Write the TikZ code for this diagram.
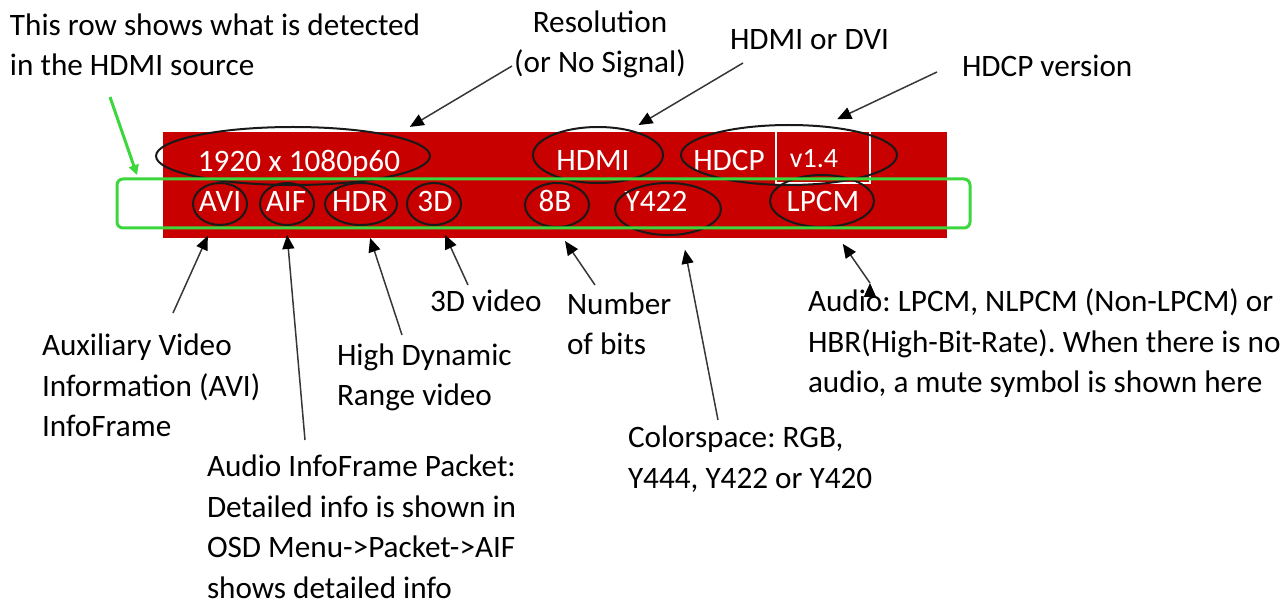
\documentclass[tikz,border=0pt]{standalone}
\usepackage{fontspec}
\setmainfont{Carlito}
\usetikzlibrary{arrows.meta,shapes.geometric}
\definecolor{barred}{RGB}{200,0,0}
\definecolor{rowgreen}{RGB}{60,215,60}
\definecolor{pointgray}{RGB}{55,55,55}
\frenchspacing

\begin{document}
\begin{tikzpicture}[x=0.5pt,y=-0.5pt,>={Triangle[length=7pt,width=6pt,color=black]},
	every node/.style={inner sep=0pt,outer sep=0pt,font=\fontsize{15.6pt}{20.25pt}\selectfont},
	note/.style={anchor=base west,align=left},
	barlbl/.style={anchor=base,text=white},
	ring/.style={draw=black!90,line width=1pt,ellipse},
	rowbox/.style={draw=rowgreen,line width=1.5pt,rounded corners=3pt},
	pointer/.style={->,draw=pointgray,line width=0.75pt}]
	\useasboundingbox (0,0) rectangle (1287,609);

	% the status bar
	\fill[barred] (163,132) rectangle (947,238);
	\draw[white,line width=0.75pt] (776,132) |- (870,183) -- (870,132);

	\node[barlbl] (vres) at (299,172) {1920 x 1080p60};
	\node[barlbl] (vhdmi) at (593,171) {HDMI};
	\node[barlbl] (vhdcp) at (729,171) {HDCP};
	\node[barlbl,font=\fontsize{14pt}{16pt}\selectfont] (vver) at (814,168) {v1.4};
	\node[barlbl] (vavi) at (220,212) {AVI};
	\node[barlbl] (vaif) at (286,212) {AIF};
	\node[barlbl] (vhdr) at (360,212) {HDR};
	\node[barlbl] (v3d) at (435,212) {3D};
	\node[barlbl] (v8b) at (555,212) {8B};
	\node[barlbl] (vcs) at (656,212) {Y422};
	\node[barlbl] (vaud) at (823,212) {LPCM};

	% rings round the fields
	\node[ring,minimum width=137pt,minimum height=29pt] (mres) at (293,156) {};
	\node[ring,minimum width=65pt,minimum height=28pt] (mhdmi) at (598,155) {};
	\node[ring,minimum width=108pt,minimum height=30pt] (mhdcp) at (789,155) {};
	\node[ring,minimum width=27pt,minimum height=21pt] (mavi) at (220,204) {};
	\node[ring,minimum width=27pt,minimum height=21pt] (maif) at (287,204) {};
	\node[ring,minimum width=36pt,minimum height=21pt] (mhdr) at (361,204) {};
	\node[ring,minimum width=27pt,minimum height=21pt] (m3d) at (434,204) {};
	\node[ring,minimum width=32pt,minimum height=22pt] (m8b) at (557,205) {};
	\node[ring,minimum width=53pt,minimum height=26pt] (mcs) at (668,209) {};
	\node[ring,minimum width=52pt,minimum height=26pt] (maud) at (822,201) {};

	\node[rowbox,minimum width=426.5pt,minimum height=24.5pt] (row) at (543.5,203.5) {};

	% notes (placed at the baseline of their last line)
	\node[note] (nrow) at (10,76) {This row shows what is detected\\in the HDMI source};
	\node[note,anchor=base,align=center] (nres) at (600,73) {Resolution\\(or No Signal)};
	\node[note] (nhdmi) at (730,50) {HDMI or DVI};
	\node[note] (nhdcp) at (962,77) {HDCP version};
	\node[note] (navi) at (42,437) {Auxiliary Video\\Information (AVI)\\InfoFrame};
	\node[note] (naif) at (207,598) {Audio InfoFrame Packet:\\Detailed info is shown in\\OSD Menu->Packet->AIF\\shows detailed info};
	\node[note] (nhdr) at (337,406) {High Dynamic\\Range video};
	\node[note] (n3d) at (430,312) {3D video};
	\node[note] (n8b) at (567,355) {Number\\of bits};
	\node[note] (ncs) at (628,488) {Colorspace: RGB,\\Y444, Y422 or Y420};
	\node[note] (naud) at (808,393) {Audio: LPCM, NLPCM (Non-LPCM) or\\HBR(High-Bit-Rate). When there is no\\audio, a mute symbol is shown here};

	\path[pointer]
	([shift={(-88,-7)}]nres.base) edge [shorten >=9.25pt] (mres.11)
	([shift={(13,13)}]nhdmi.base west) edge [shorten >=5.3pt] (mhdmi.38)
	([shift={(-25,-5)}]nhdcp.base west) edge [shorten >=8.5pt] (mhdcp.41)

	([shift={(131,-124)}]navi.base west) edge [shorten >=6.35pt] (mavi.-109)
	([shift={(98,-158)}]naif.base west) edge [shorten >=5pt] (maif.-92)
	([shift={(65,-71)}]nhdr.base west) edge [shorten >=6.9pt] (mhdr.-77)
	([shift={(38,-27)}]n3d.base west) edge [shorten >=5.75pt] (m3d.-73)
	([shift={(28,-70)}]n8b.base west) edge [shorten >=8.5pt] (m8b.-94)
	([shift={(90,-68)}]ncs.base west) edge [shorten >=8pt] (mcs.-61)
	([shift={(62,-110)}]naud.base west) edge [shorten >=10.5pt] (maud.-71)
	;

	\draw[->,>={Triangle[length=5pt,width=5pt]},rowgreen,line width=1.5pt]
	([shift={(100,21)}]nrow.base west) -- ([shift={(20,-4)}]row.north west);
\end{tikzpicture}
\end{document}
